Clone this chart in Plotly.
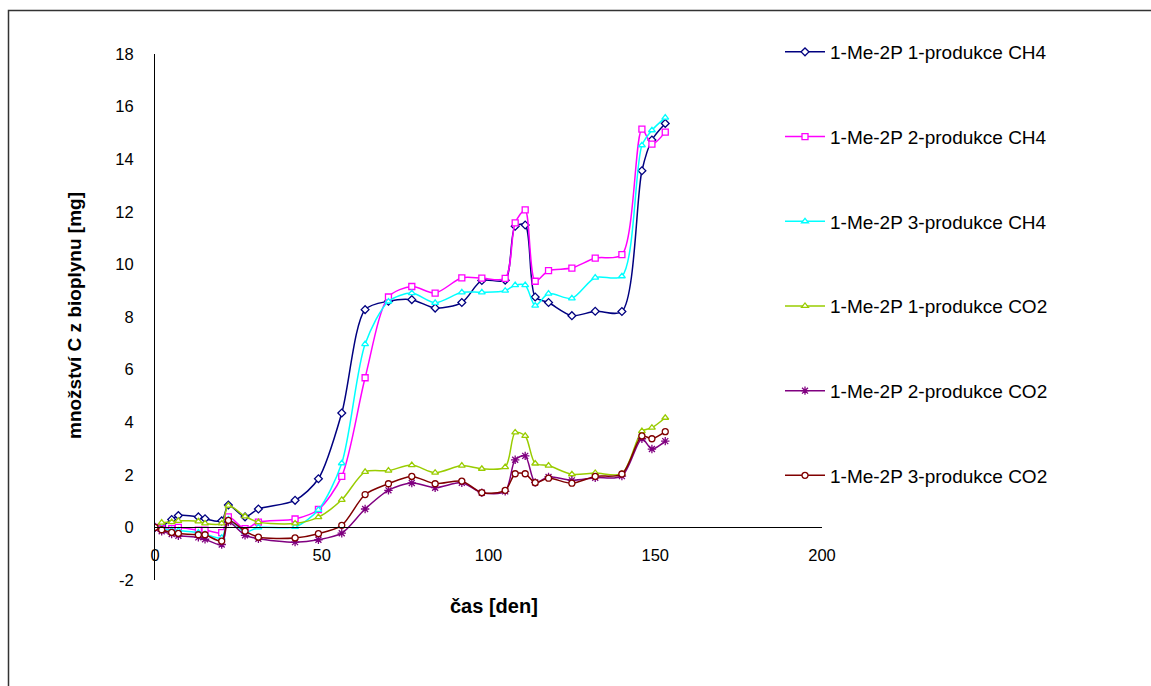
import plotly.graph_objects as go

days = [0, 2, 5, 7, 13, 15, 20, 22, 27, 31, 42, 49, 56, 63, 70, 77, 84, 92, 98,
        105, 108, 111, 114, 118, 125, 132, 140, 146, 149, 153]

ch4_1 = [0, 0.05, 0.3, 0.45, 0.4, 0.33, 0.25, 0.85, 0.4, 0.7, 1.03, 1.85, 4.35, 8.28,
         8.6, 8.66, 8.34, 8.55, 9.39, 9.4, 11.45, 11.5, 8.76, 8.55, 8.05, 8.22, 8.21,
         13.56, 14.73, 15.36]
ch4_2 = [0, -0.05, -0.05, 0.0, -0.1, -0.1, -0.2, 0.4, -0.05, 0.2, 0.32, 0.68, 1.94, 5.69,
         8.76, 9.16, 8.91, 9.49, 9.48, 9.47, 11.58, 12.07, 9.36, 9.76, 9.86, 10.24, 10.37,
         15.14, 14.57, 15.03]
ch4_3 = [0, -0.05, -0.1, -0.12, -0.2, -0.25, -0.4, 0.3, -0.18, 0.0, 0.02, 0.67, 2.44, 6.97,
         8.59, 8.91, 8.54, 8.94, 8.94, 9.0, 9.21, 9.21, 8.43, 8.89, 8.71, 9.5, 9.55,
         14.53, 15.1, 15.58]
co2_1 = [0, 0.18, 0.2, 0.25, 0.23, 0.15, 0.15, 0.83, 0.42, 0.2, 0.15, 0.39, 1.05, 2.11,
         2.16, 2.37, 2.08, 2.35, 2.23, 2.29, 3.61, 3.48, 2.43, 2.35, 2.02, 2.07, 2.04,
         3.66, 3.79, 4.17]
co2_2 = [0, -0.15, -0.25, -0.32, -0.38, -0.45, -0.65, 0.2, -0.3, -0.43, -0.56, -0.47, -0.22, 0.7,
         1.41, 1.69, 1.51, 1.70, 1.32, 1.37, 2.57, 2.72, 1.71, 1.92, 1.79, 1.89, 1.95,
         3.37, 2.98, 3.28]
co2_3 = [0, -0.09, -0.19, -0.23, -0.28, -0.28, -0.52, 0.27, -0.14, -0.37, -0.4, -0.24, 0.08, 1.25,
         1.66, 1.94, 1.66, 1.76, 1.32, 1.41, 2.04, 2.04, 1.70, 1.87, 1.68, 1.94, 2.03,
         3.48, 3.37, 3.64]

names = ["1-Me-2P 1-produkce CH4", "1-Me-2P 2-produkce CH4", "1-Me-2P 3-produkce CH4",
         "1-Me-2P 1-produkce CO2", "1-Me-2P 2-produkce CO2", "1-Me-2P 3-produkce CO2"]

x_ticks = [0, 50, 100, 150, 200]
y_ticks = [-2, 0, 2, 4, 6, 8, 10, 12, 14, 16, 18]
y_tick_labels = ["-2", "0", "2", "4", "6", "8", "10", "12", "14", "16", "18"]

series = [ch4_1, ch4_2, ch4_3, co2_1, co2_2, co2_3]
colors = ["#000080", "#FF00FF", "#00FFFF", "#99CC00", "#800080", "#800000"]
symbols = ["diamond", "square", "triangle-up", "triangle-up", "asterisk-open", "circle"]

fig = go.Figure()
for i, (nm, ys, c, s) in enumerate(zip(names, series, colors, symbols)):
    if s == "asterisk-open":
        marker = dict(symbol=s, size=7, color=c, line=dict(color=c, width=1.3))
    else:
        marker = dict(symbol=s, size=6, color="white", line=dict(color=c, width=1.3))
    fig.add_trace(go.Scatter(
        x=days, y=ys, name=nm, mode="lines+markers",
        line=dict(color=c, width=1.5, shape="spline", smoothing=0.8),
        marker=marker, legendgroup=str(i)))

L, R, T, B = 155, 822, 54, 580
W, H = 1151, 686
pw, ph = R - L, B - T

def px(xpix):
    return (xpix - L) / pw

def py(ypix):
    return (B - ypix) / ph

fig.update_layout(
    width=W, height=H,
    margin=dict(l=L, r=W - R, t=T, b=H - B, pad=0),
    paper_bgcolor="white", plot_bgcolor="white",
    font=dict(family="Liberation Sans, Arial", size=16, color="black"),
    showlegend=True,
    legend=dict(x=px(780), y=py(33), xanchor="left", yanchor="top",
                traceorder="grouped", tracegroupgap=57, maxheight=680,
                font=dict(size=19), bgcolor="rgba(0,0,0,0)", itemwidth=40),
    xaxis=dict(range=[0, 200], tickvals=x_ticks, showgrid=False,
               zeroline=False, showline=True, linecolor="black", linewidth=1,
               anchor="free", position=0.1, ticks="", ticklabelstandoff=13,
               tickfont=dict(size=16.5)),
    yaxis=dict(range=[-2, 18], tickvals=y_ticks, ticktext=y_tick_labels, showgrid=False,
               zeroline=False, showline=True, linecolor="black", linewidth=1,
               ticks="", ticklabelstandoff=17, tickfont=dict(size=16.5)),
    annotations=[
        dict(text="<b>čas [den]</b>", x=px(494), y=py(606), xref="paper", yref="paper",
             showarrow=False, font=dict(size=20), xanchor="center", yanchor="middle"),
        dict(text="<b>množství C z bioplynu [mg]</b>", x=px(74), y=py(316), xref="paper",
             yref="paper", showarrow=False, textangle=-90, font=dict(size=19),
             xanchor="center", yanchor="middle"),
    ],
    shapes=[dict(type="rect", xref="paper", yref="paper",
                 x0=px(8.5), x1=px(1170), y0=py(10.5), y1=py(720),
                 line=dict(color="#333333", width=1.5))],
)

fig.write_html("out.html")
